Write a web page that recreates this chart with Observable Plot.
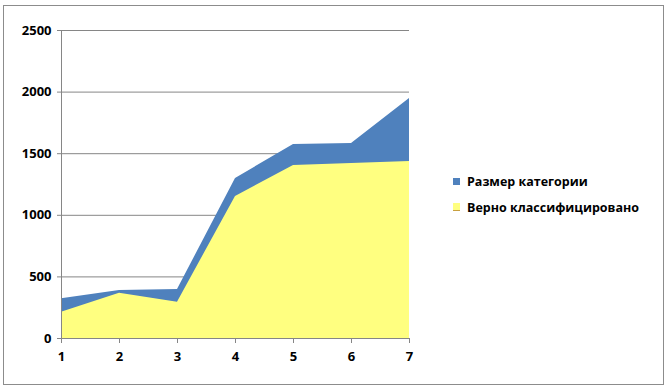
<!DOCTYPE html>
<html>
<head>
<meta charset="utf-8">
<script src="https://cdn.jsdelivr.net/npm/d3@7"></script>
<script src="https://cdn.jsdelivr.net/npm/@observablehq/plot@0.6"></script>
<style>
  html, body { margin: 0; padding: 0; background: #fff; }
  #wrap { position: relative; width: 669px; height: 389px; overflow: hidden; }
  #frame { position: absolute; left: 3px; top: 5px; width: 659px; height: 378px; border: 1px solid #8c8c8c; }
  #chart { position: absolute; left: 0; top: 0; }
  .legend { position: absolute; left: 453px; font: bold 12.5px "Open Sans", "Noto Sans", sans-serif; color: #000; }
  .legend div { height: 26px; display: flex; align-items: center; white-space: nowrap; }
  .legend span.sw { display: inline-block; width: 7px; height: 7px; margin-right: 7px; }
</style>
</head>
<body>
<div id="wrap">
  <div id="frame"></div>
  <div id="chart"></div>
  <div class="legend" id="legend" style="top:168px"></div>
</div>
<script>
const categories = [1, 2, 3, 4, 5, 6, 7];
const seriesNames = ["Размер категории", "Верно классифицировано"];
const seriesColors = ["#4F81BD", "#FFFF80"];
const categorySize = [322, 390, 397, 1299, 1575, 1583, 1948];
const correctlyClassified = [214, 368, 295, 1153, 1404, 1420, 1437];
const yTicks = [0, 500, 1000, 1500, 2000, 2500];

const sizeData = categories.map((c, i) => ({x: c, y: categorySize[i]}));
const correctData = categories.map((c, i) => ({x: c, y: correctlyClassified[i]}));

const chart = Plot.plot({
  width: 669,
  height: 389,
  marginLeft: 61,
  marginRight: 260,
  marginTop: 30,
  marginBottom: 51,
  style: {fontFamily: "'Open Sans', 'Noto Sans', sans-serif", fontSize: "13px", fontWeight: "bold", background: "transparent"},
  x: {domain: [1, 7], ticks: categories, tickFormat: d => String(d), tickSize: 5, tickPadding: 9, label: null},
  y: {domain: [0, 2500], ticks: yTicks, tickFormat: d => String(d), tickSize: 4, tickPadding: 6, label: null},
  marks: [
    Plot.ruleY(yTicks.filter(d => d > 0), {stroke: "#868686", strokeWidth: 1}),
    Plot.areaY(sizeData, {x: "x", y1: 0, y2: "y", fill: seriesColors[0]}),
    Plot.areaY(correctData, {x: "x", y1: 0, y2: "y", fill: seriesColors[1]}),
    Plot.ruleX([1], {stroke: "#868686"}),
    Plot.ruleY([0], {stroke: "#868686"}),
    Plot.axisX({ticks: categories, tickFormat: d => String(d), tickSize: 5, tickPadding: 8, stroke: "#868686", color: "#000", fontWeight: "bold"}),
    Plot.axisY({ticks: yTicks, tickFormat: d => String(d), tickSize: 4, tickPadding: 6, stroke: "#868686", color: "#000", fontWeight: "bold"})
  ]
});
document.getElementById("chart").appendChild(chart);

const legend = document.getElementById("legend");
seriesNames.forEach((name, i) => {
  const row = document.createElement("div");
  const sw = document.createElement("span");
  sw.className = "sw";
  sw.style.background = seriesColors[i];
  if (i === 1) sw.style.borderBottom = "1px solid #c8a040";
  row.appendChild(sw);
  row.appendChild(document.createTextNode(name));
  legend.appendChild(row);
});
</script>
</body>
</html>
